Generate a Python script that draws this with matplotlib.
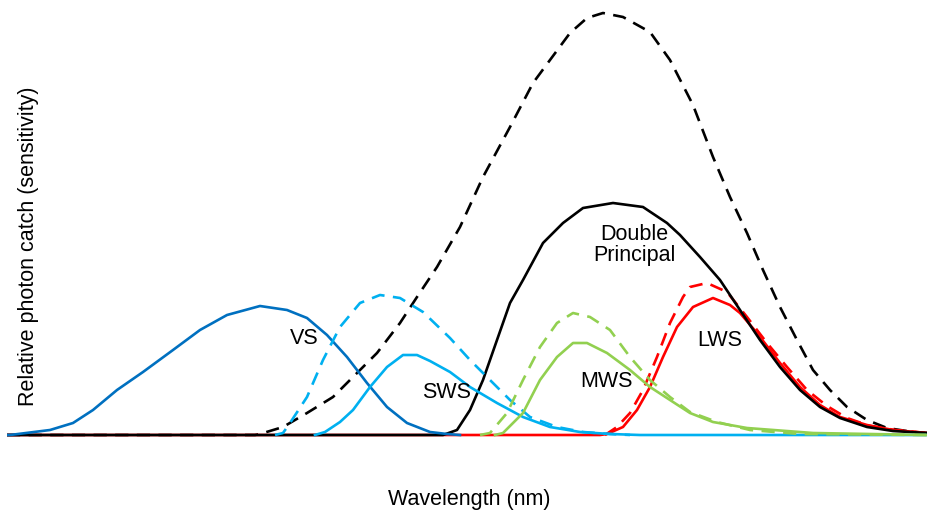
import matplotlib
matplotlib.use('Agg')
from matplotlib import pyplot as plt

plt.rcParams['font.family'] = ['Liberation Sans', 'DejaVu Sans']

# Kurve osetljivosti (talasna duzina u nm, relativni ulov u proizvoljnim jedinicama)
vs_wl = [303.5, 305, 325, 336.5, 346.5, 358.5, 371.5, 386.5, 400, 413.5, 430, 443.5, 453.5, 463.5, 473.5,
         483.5, 493.5, 503.5, 515, 523.5, 530]
vs_h = [0, 0, 5, 12, 25, 45, 63, 85, 105, 120, 129, 125, 117, 100, 78, 52, 28, 12, 3, 1, 0]

sws_wl = [457.5, 462.5, 470, 476.5, 485, 493.5, 501.5, 508.5, 515, 525, 535, 548.5, 561.5, 575, 590, 605,
          620, 763.5]
sws_h = [0, 3, 13, 25, 48, 68, 80, 80, 74, 63, 48, 32, 18, 8, 3, 1, 0, 0]

sws_d_wl = [437.5, 441.5, 445, 453.5, 461.5, 470, 480, 490, 500, 511.5, 525, 535, 545, 555, 565, 578.5,
            591.5, 605, 615]
sws_d_h = [0, 2, 12, 38, 75, 108, 132, 140, 137, 123, 97, 75, 55, 35, 18, 8, 3, 1, 0]

dbl_d_wl = [303.5, 427.5, 430, 441.5, 453.5, 466.5, 476.5, 488.5, 500, 508.5, 518.5, 530, 541.5, 555,
            566.5, 575, 585, 593.5, 601.5, 611.5, 625, 635, 646.5, 656.5, 665, 673.5, 681.5, 690, 698.5,
            706.5, 715, 723.5, 733.5, 743.5, 756.5, 763.5]
dbl_d_h = [0, 0, 1, 8, 22, 38, 58, 82, 112, 138, 168, 208, 258, 308, 352, 375, 402, 417, 422, 418, 403,
           375, 330, 278, 238, 202, 165, 128, 95, 65, 45, 28, 15, 7, 3, 2]

dbl_wl = [303.5, 521.5, 528.5, 535, 541.5, 548.5, 555, 561.5, 571.5, 581.5, 591.5, 606.5, 621.5, 633.5,
          640, 650, 660, 670, 680, 690, 700, 710, 720, 733.5, 746.5, 763.5]
dbl_h = [0, 0, 5, 25, 55, 95, 132, 155, 192, 212, 227, 232, 228, 212, 200, 178, 155, 125, 95, 68, 45,
         28, 17, 8, 4, 2]

mws_wl = [547.5, 551.5, 561.5, 570, 578.5, 586.5, 593.5, 603.5, 615, 625, 635, 645, 656.5, 673.5, 706.5,
          763.5]
mws_h = [0, 2, 22, 55, 78, 92, 92, 82, 65, 48, 35, 22, 13, 7, 2, 0]

mws_d_wl = [540, 545, 553.5, 561.5, 570, 578.5, 586.5, 595, 605, 615, 625, 635, 645, 658.5, 675, 700,
            763.5]
mws_d_h = [0, 2, 22, 55, 88, 112, 122, 118, 105, 78, 55, 38, 23, 13, 5, 1, 0]

lws_wl = [303.5, 600, 603.5, 611.5, 618.5, 625, 631.5, 638.5, 646.5, 656.5, 665, 670, 678.5, 690, 700,
          710, 720, 733.5, 746.5, 763.5]
lws_h = [0, 0, 1, 8, 25, 48, 78, 108, 128, 137, 130, 122, 102, 72, 48, 30, 18, 10, 5, 2]

lws_d_wl = [602.5, 608.5, 615, 621.5, 628.5, 635, 641.5, 645, 653.5, 663.5, 673.5, 683.5, 693.5, 703.5,
            713.5, 723.5, 735, 747.5, 763.5]
lws_d_h = [0, 8, 22, 45, 78, 112, 138, 148, 152, 143, 118, 92, 68, 45, 29, 17, 9, 5, 2]

c_vs = '#0070C0'
c_sws = '#00B0F0'
c_mws = '#92D050'
c_lws = '#FF0000'
lw = 1.9
dash = (5, 3.2)

fig = plt.figure(figsize=(9.27, 5.18), dpi=100)
ax = fig.add_axes([7/927, (518-438)/518, 920/927, 428/518])

kw = dict(lw=lw, solid_joinstyle='round', dash_joinstyle='round')
ax.plot(dbl_d_wl, dbl_d_h, color='black', ls='--', dashes=dash, **kw)
ax.plot(lws_d_wl, lws_d_h, color=c_lws, ls='--', dashes=dash, **kw)
ax.plot(lws_wl, lws_h, color=c_lws, **kw)
ax.plot(dbl_wl, dbl_h, color='black', **kw)
ax.plot(vs_wl, vs_h, color=c_vs, **kw)
ax.plot(sws_d_wl, sws_d_h, color=c_sws, ls='--', dashes=dash, **kw)
ax.plot(sws_wl, sws_h, color=c_sws, **kw)
ax.plot(mws_d_wl, mws_d_h, color=c_mws, ls='--', dashes=dash, **kw)
ax.plot(mws_wl, mws_h, color=c_mws, **kw)

fs = 15.5
ax.text(452, 99, 'VS', fontsize=fs, ha='center', va='center_baseline')
ax.text(523.25, 45.5, 'SWS', fontsize=fs, ha='center', va='center_baseline')
ax.text(617, 190, 'Double\nPrincipal', fontsize=fs, ha='center', va='center', linespacing=1.0)
ax.text(603.5, 56, 'MWS', fontsize=fs, ha='center', va='center_baseline')
ax.text(660, 97.5, 'LWS', fontsize=fs, ha='center', va='center_baseline')

ax.set_xlim(303.5, 763.5)
ax.set_ylim(-3, 425)
ax.axis('off')

fig.text(29/927, 1 - 246/518, 'Relative photon catch (sensitivity)', fontsize=fs,
         rotation=90, ha='center', va='center')
fig.text(469/927, 1 - 499/518, 'Wavelength (nm)', fontsize=fs, ha='center', va='center')

fig.savefig('out.png', dpi=100)
